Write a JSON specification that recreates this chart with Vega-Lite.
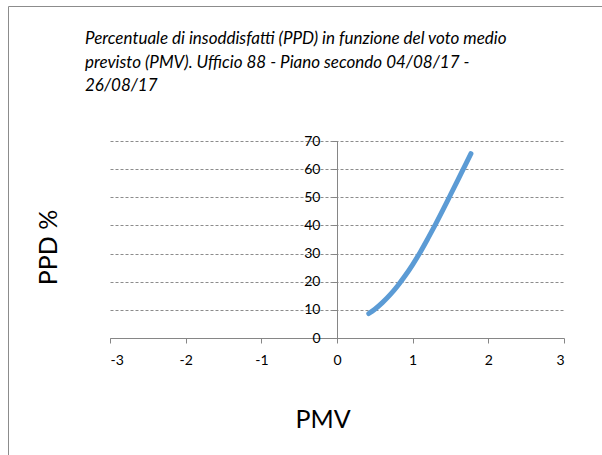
{
  "$schema": "https://vega.github.io/schema/vega-lite/v6.json",
  "width": 594,
  "height": 449,
  "autosize": {"type": "none"},
  "padding": {"left": 8, "top": 6, "right": 0, "bottom": 0},
  "background": "white",
  "config": {
    "font": "Lato",
    "view": {"stroke": "#8c8c8c", "strokeWidth": 1, "strokeDash": [594, 1043, 449, 0]}
  },
  "title": {
    "text": ["Percentuale di insoddisfatti (PPD) in funzione del voto medio", "previsto (PMV). Ufficio 88 - Piano secondo 04/08/17 -", "26/08/17"],
    "anchor": "start",
    "frame": "group",
    "orient": "top",
    "fontStyle": "italic",
    "fontWeight": "normal",
    "fontSize": 17,
    "lineHeight": 23.5,
    "color": "#000000",
    "baseline": "top",
    "dx": 77,
    "dy": 93
  },
  "data": {
    "values": [
      {"PMV": 0.42, "PPD": 8.7},
      {"PMV": 0.5, "PPD": 10.2},
      {"PMV": 0.6, "PPD": 12.55},
      {"PMV": 0.7, "PPD": 15.3},
      {"PMV": 0.8, "PPD": 18.5},
      {"PMV": 0.9, "PPD": 22.1},
      {"PMV": 1.0, "PPD": 26.1},
      {"PMV": 1.1, "PPD": 30.5},
      {"PMV": 1.2, "PPD": 35.3},
      {"PMV": 1.3, "PPD": 40.3},
      {"PMV": 1.4, "PPD": 45.5},
      {"PMV": 1.5, "PPD": 50.9},
      {"PMV": 1.6, "PPD": 56.3},
      {"PMV": 1.7, "PPD": 61.7},
      {"PMV": 1.77, "PPD": 65.5}
    ]
  },
  "mark": {"type": "line", "color": "#5B9BD5", "strokeWidth": 5, "strokeCap": "round", "interpolate": "monotone"},
  "encoding": {
    "x": {
      "field": "PMV",
      "type": "quantitative",
      "scale": {"domain": [-3, 3], "range": [102, 556], "nice": false, "zero": false},
      "axis": {
        "orient": "bottom",
        "offset": -117,
        "values": [-3, -2, -1, 0, 1, 2, 3],
        "labelExpr": "datum.value < 0 ? '-' + abs(datum.value) : '' + datum.value",
        "grid": false,
        "domainColor": "#868686",
        "tickColor": "#868686",
        "tickSize": 5,
        "labelFontSize": 14,
        "labelColor": "#000000",
        "labelPadding": 10,
        "title": "PMV",
        "titleFontSize": 25,
        "titleFontWeight": "normal",
        "titleColor": "#000000",
        "titleX": 314.5,
        "titleY": 89,
        "titleAlign": "center",
        "titleBaseline": "alphabetic"
      }
    },
    "y": {
      "field": "PPD",
      "type": "quantitative",
      "scale": {"domain": [0, 70], "range": [332, 135], "nice": false, "zero": false},
      "axis": {
        "orient": "left",
        "offset": -329,
        "values": [0, 10, 20, 30, 40, 50, 60, 70],
        "grid": true,
        "gridColor": "#8c8c8c",
        "gridDash": [3, 2],
        "gridWidth": 1,
        "domainColor": "#868686",
        "tickColor": "#868686",
        "tickSize": 5,
        "labelFontSize": 14,
        "labelColor": "#000000",
        "labelPadding": 12,
        "title": "PPD %",
        "titleFontSize": 25,
        "titleFontWeight": "normal",
        "titleColor": "#000000",
        "titleAngle": -90,
        "titleX": -289,
        "titleY": 241,
        "titleAlign": "center",
        "titleBaseline": "middle"
      }
    }
  }
}
